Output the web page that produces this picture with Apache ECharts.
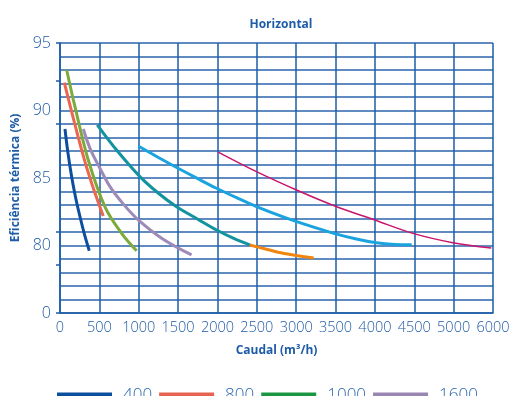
<!DOCTYPE html>
<html>
<head>
<meta charset="utf-8">
<script src="https://cdn.jsdelivr.net/npm/echarts@6/dist/echarts.min.js"></script>
<style>html,body{margin:0;padding:0;background:#fff}#c{width:515px;height:396px}</style>
</head>
<body>
<div id="c"></div>
<script>
// Data (x: caudal m3/h in axis units, y: eficiência %)
const s400x = [63, 100, 148, 200, 254, 310, 372];
const s400y = [88.63, 86.9, 85.1, 83.5, 82.13, 80.85, 79.61];
const s800x = [55, 275, 402, 549];
const s800y = [92.06, 87.07, 84.61, 82.19];
const s1000x = [85, 190, 359, 571, 783, 973];
const s1000y = [93.0, 90.28, 86.33, 82.87, 80.90, 79.61];
const s1600x = [296, 381, 500, 635, 800, 994, 1300, 1671];
const s1600y = [88.63, 87.2, 85.8, 84.36, 83.1, 81.89, 80.5, 79.3];
const tealX = [473, 700, 1015, 1250, 1481, 1750, 1988, 2200, 2411];
const tealY = [88.93, 87.2, 85.10, 83.87, 82.87, 81.95, 81.15, 80.55, 80.04];
const orangeX = [2411, 2623, 2834, 3223];
const orangeY = [80.04, 79.72, 79.42, 79.07];
const skyX = [994, 1250, 1500, 1750, 1988, 2250, 2496, 2834, 3172, 3468, 3765, 4019, 4250, 4467];
const skyY = [87.37, 86.52, 85.72, 84.95, 84.24, 83.52, 82.88, 82.12, 81.45, 80.92, 80.48, 80.20, 80.08, 80.06];
const magX = [2009, 2496, 3004, 3490, 3997, 4484, 4991, 5478];
const magY = [86.92, 85.47, 84.11, 82.93, 81.89, 80.90, 80.21, 79.81];
const legendNames = ['400', '800', '1000', '1600'];
const xTickLabels = {5500: '6000'};
const yTickLabels = {75: '0', 80: '80', 85: '85', 90: '90', 95: '95'};
const yOuterTicks = [75, 78.6, 81, 89, 92.2, 95];

const zip = (xs, ys) => xs.map((x, i) => [x, ys[i]]);
const blue = '#1d5ca8';
const lineSeries = (name, xs, ys, color, w) => ({
  name, type: 'line', data: zip(xs, ys), smooth: 0.35, showSymbol: false,
  lineStyle: {color, width: w}, itemStyle: {color}, z: 3
});

const chart = echarts.init(document.getElementById('c'));
chart.setOption({
  animation: false,
  title: {text: 'Horizontal', left: 276, top: 14, textAlign: 'center',
    textStyle: {fontSize: 12, fontWeight: 'bold', color: blue, fontFamily: 'Open Sans'}},
  grid: {left: 60, right: 22, top: 43, bottom: 83},
  legend: {
    left: 52, top: 382, icon: 'rect', itemWidth: 55, itemHeight: 6, itemGap: 7,
    textStyle: {fontSize: 17, color: '#2a66ae', width: 44, padding: [0, 0, 0, 6], fontFamily: 'Open Sans', fontWeight: 300},
    data: [
      {name: legendNames[0], itemStyle: {color: '#0b4f9f'}},
      {name: legendNames[1], itemStyle: {color: '#e8634f'}},
      {name: legendNames[2], itemStyle: {color: '#1a9640'}},
      {name: legendNames[3], itemStyle: {color: '#9a86b2'}}
    ]
  },
  xAxis: {
    type: 'value', min: 0, max: 5500, interval: 500,
    name: 'Caudal (m³/h)', nameLocation: 'middle', nameGap: 32,
    nameTextStyle: {fontSize: 12, fontWeight: 'bold', color: blue, fontFamily: 'Open Sans'},
    axisLine: {show: true, lineStyle: {color: blue, width: 1.5}},
    axisTick: {show: false},
    axisLabel: {margin: 7, fontSize: 14.5, color: '#1f5aa6', fontFamily: 'Open Sans', fontWeight: 300,
      formatter: v => (xTickLabels[v] !== undefined ? xTickLabels[v] : String(v))},
    splitLine: {show: true, lineStyle: {color: blue, width: 1.5}}
  },
  yAxis: [{
    type: 'value', min: 75, max: 95, interval: 1, position: 'left',
    name: 'Eficiência térmica (%)', nameLocation: 'middle', nameGap: 38,
    nameTextStyle: {fontSize: 12, fontWeight: 'bold', color: blue, fontFamily: 'Open Sans'},
    axisLine: {show: true, lineStyle: {color: blue, width: 1.5}},
    axisTick: {show: false},
    axisLabel: {margin: 9, fontSize: 16, color: '#1f5aa6', fontFamily: 'Open Sans', fontWeight: 300,
      formatter: v => (yTickLabels[v] !== undefined ? yTickLabels[v] : '')},
    splitLine: {show: true, lineStyle: {color: '#2a64ac', width: 1.5}}
  }, {
    type: 'value', min: 75, max: 95, position: 'left', offset: 0,
    axisLine: {show: false}, axisLabel: {show: false}, splitLine: {show: false},
    axisTick: {show: true, length: 4, customValues: yOuterTicks, lineStyle: {color: blue, width: 1.5}}
  }],
  series: [
    lineSeries('400', s400x, s400y, '#0d4f9e', 3),
    lineSeries('800', s800x, s800y, '#ec6650', 3),
    lineSeries('1000', s1000x, s1000y, '#7cab3c', 3),
    lineSeries('1600', s1600x, s1600y, '#9d8ab9', 3),
    lineSeries('teal', tealX, tealY, '#13939f', 3),
    lineSeries('orange', orangeX, orangeY, '#f0850f', 3),
    lineSeries('sky', skyX, skyY, '#1ba3e0', 3),
    lineSeries('magenta', magX, magY, '#c8156e', 1.5)
  ]
});
</script>
</body>
</html>
